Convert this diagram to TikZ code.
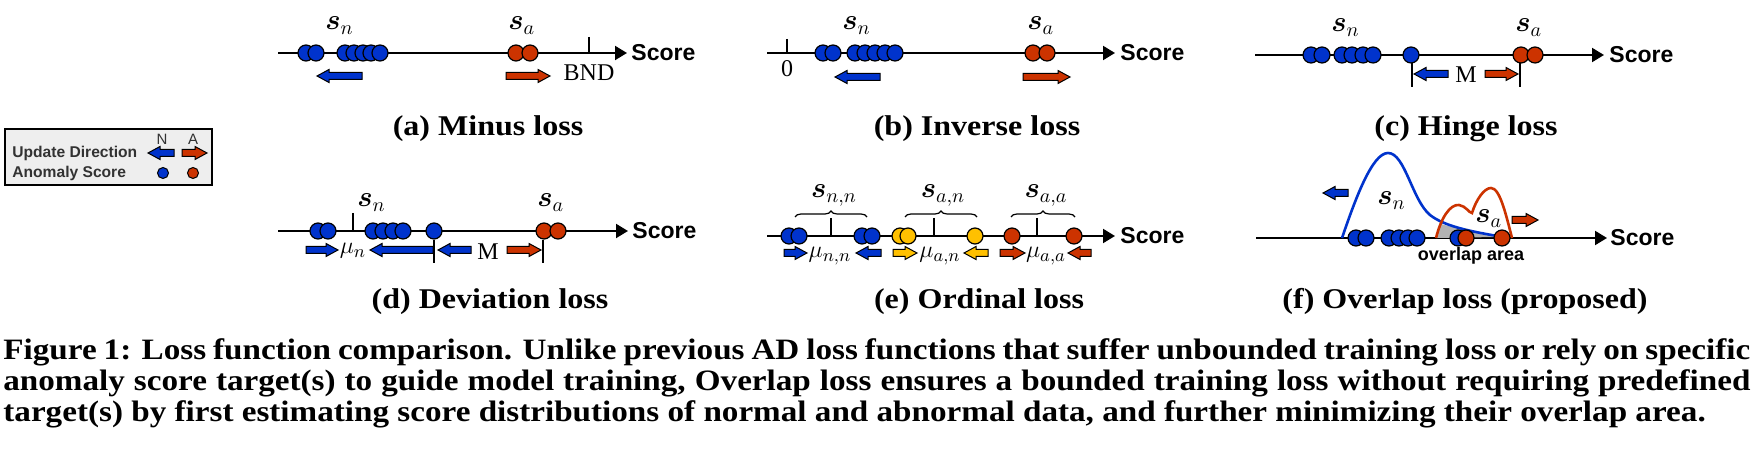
\documentclass[tikz,border=0pt]{standalone}
\usepackage{amsmath,bm}
\usepackage{fontspec}
\setmainfont{Liberation Serif}
\newfontfamily\arialfont{Liberation Sans}
\newfontfamily\capfont[FakeStretch=1.12]{Liberation Serif}
\usetikzlibrary{arrows.meta,decorations.pathreplacing}

\definecolor{normblue}{RGB}{0,51,204}
\definecolor{anomred}{RGB}{204,51,0}
\definecolor{midyellow}{RGB}{255,192,0}
\definecolor{legendgray}{RGB}{238,238,238}
\definecolor{legendtext}{RGB}{50,50,50}

\tikzset{
  axisline/.style={line width=1pt,-{Triangle[length=6pt,width=7pt]}},
  scorelabel/.style={anchor=west,inner sep=0pt,font=\arialfont\bfseries\fontsize{11.5}{13}\selectfont},
  setlabel/.style={anchor=base west,inner sep=0pt,font=\fontsize{14.5}{16}\selectfont},
  meanlabel/.style={anchor=base,inner sep=0pt,font=\fontsize{13}{15}\selectfont},
  subcap/.style={anchor=base,inner sep=0pt,font=\capfont\bfseries\fontsize{14.3}{16}\selectfont},
  figline/.style={anchor=base west,inner sep=0pt,font=\capfont\bfseries\fontsize{14.8}{17}\selectfont},
  serifmark/.style={inner sep=0pt,font=\fontsize{12}{14}\selectfont},
  tickline/.style={line width=0.6pt},
  legendlabel/.style={anchor=west,inner sep=0pt,text=legendtext,font=\arialfont\bfseries\fontsize{7.8}{9}\selectfont}
}

% a row of score dots: x list, y, colour
\newcommand{\dotrow}[3]{%
  \foreach \px in {#1} {\filldraw[fill=#3,draw=black,line width=0.6pt] (\px,#2) circle[radius=4pt];}}
% block arrow: tail x, tip x, y, colour
\newcommand{\dirarrow}[4]{%
  \pgfmathsetmacro\headx{#2-12*sign(#2-#1)}
  \filldraw[fill=#4,draw=black,line width=0.5pt]
    (#1,#3-3.5) -- (\headx,#3-3.5) -- (\headx,#3-6.5) -- (#2,#3) --
    (\headx,#3+6.5) -- (\headx,#3+3.5) -- (#1,#3+3.5) -- cycle;}

\begin{document}
\begin{tikzpicture}[x=0.5pt,y=-0.5pt]
\useasboundingbox (0,0) rectangle (1755,453);

% legend
\filldraw[fill=legendgray,draw=black,line width=0.8pt] (5,129) rectangle (212,185);
\node[legendlabel] (updlbl) at (12,153) {Update Direction};
\node[legendlabel] (anolbl) at (12,173) {Anomaly Score};
\node[inner sep=0pt,text=legendtext,font=\arialfont\fontsize{7.5}{9}\selectfont] (legN) at (162,139) {N};
\node[inner sep=0pt,text=legendtext,font=\arialfont\fontsize{7.5}{9}\selectfont] (legA) at (193,139) {A};
\dirarrow{174}{148}{153}{normblue}
\dirarrow{182}{207}{153}{anomred}
\filldraw[fill=normblue,draw=black,line width=0.5pt] (163,173) circle[radius=2.75pt];
\filldraw[fill=anomred,draw=black,line width=0.5pt] (193,173) circle[radius=2.75pt];

% (a) minus loss
\draw[axisline] (278,53) -- (627,53);
\node[scorelabel] (scoreA) at (631,53) {Score};
\draw[tickline] (589,37) -- (589,53);
\dotrow{306,316,345,354,363,371,380}{53}{normblue}
\dotrow{516,530}{53}{anomred}
\node[serifmark] (bnd) at (589,73) {BND};
\dirarrow{362}{317}{76}{normblue}
\dirarrow{506}{550}{76}{anomred}
\node[setlabel] (snA) at (325,30) {$\bm{s}_n$};
\node[setlabel] (saA) at (508,30) {$\bm{s}_a$};
\node[subcap] (capA) at (488,136) {(a) Minus loss};

% (b) inverse loss
\draw[axisline] (767,53) -- (1115,53);
\node[scorelabel] (scoreB) at (1120,53) {Score};
\draw[tickline] (787,39) -- (787,53);
\node[serifmark] (zero) at (787,69) {0};
\dotrow{823,833,855,865,875,885,895}{53}{normblue}
\dotrow{1033,1047}{53}{anomred}
\dirarrow{880}{835}{77}{normblue}
\dirarrow{1023}{1070}{77}{anomred}
\node[setlabel] (snB) at (842,30) {$\bm{s}_n$};
\node[setlabel] (saB) at (1027,30) {$\bm{s}_a$};
\node[subcap] (capB) at (977,136) {(b) Inverse loss};

% (c) hinge loss
\draw[axisline] (1255,55) -- (1604,55);
\node[scorelabel] (scoreC) at (1609,55) {Score};
\dotrow{1311,1322,1342,1352,1363,1373,1411}{55}{normblue}
\dotrow{1521,1535}{55}{anomred}
\draw[tickline] (1412,63) -- (1412,87);
\draw[tickline] (1520,63) -- (1520,87);
\dirarrow{1448}{1414}{74}{normblue}
\node[serifmark] (mC) at (1466,75) {M};
\dirarrow{1485}{1518}{74}{anomred}
\node[setlabel] (snC) at (1331,32) {$\bm{s}_n$};
\node[setlabel] (saC) at (1515,32) {$\bm{s}_a$};
\node[subcap] (capC) at (1466,136) {(c) Hinge loss};

% (d) deviation loss
\draw[axisline] (278,231) -- (628,231);
\node[scorelabel] (scoreD) at (632,231) {Score};
\draw[tickline] (353,213) -- (353,231);
\dotrow{318,328,373,383,393,403,434}{231}{normblue}
\dotrow{544,558}{231}{anomred}
\dirarrow{306}{338}{250}{normblue}
\node[meanlabel] (muD) at (353,254) {$\mu_n$};
\dirarrow{433}{370}{250}{normblue}
\draw[tickline] (434,240) -- (434,263);
\dirarrow{471}{438}{250}{normblue}
\node[serifmark] (mD) at (488,252) {M};
\dirarrow{507}{541}{250}{anomred}
\draw[tickline] (543,240) -- (543,263);
\node[setlabel] (snD) at (357,207) {$\bm{s}_n$};
\node[setlabel] (saD) at (537,207) {$\bm{s}_a$};
\node[subcap] (capD) at (490,309) {(d) Deviation loss};

% (e) ordinal loss
\draw[axisline] (767,236) -- (1115,236);
\node[scorelabel] (scoreE) at (1120,236) {Score};
\foreach \tx in {831,934,1037} \draw[tickline] (\tx,218) -- (\tx,236);
\dotrow{789,799,862,872}{236}{normblue}
\dotrow{900,908,975}{236}{midyellow}
\dotrow{1012,1074}{236}{anomred}
\draw[tickline,decorate,decoration={brace,amplitude=3pt}] (795,217) -- (867,217);
\draw[tickline,decorate,decoration={brace,amplitude=3pt}] (905,217) -- (977,217);
\draw[tickline,decorate,decoration={brace,amplitude=3pt}] (1011,217) -- (1075,217);
\node[setlabel,anchor=base] (snnE) at (834,198) {$\bm{s}_{n,n}$};
\node[setlabel,anchor=base] (sanE) at (943,198) {$\bm{s}_{a,n}$};
\node[setlabel,anchor=base] (saaE) at (1046,198) {$\bm{s}_{a,a}$};
\dirarrow{784}{807}{253}{normblue}
\node[meanlabel] (munnE) at (830,258) {$\mu_{n,n}$};
\dirarrow{881}{856}{253}{normblue}
\dirarrow{893}{917}{253}{midyellow}
\node[meanlabel] (muanE) at (940,258) {$\mu_{a,n}$};
\dirarrow{988}{964}{253}{midyellow}
\dirarrow{1000}{1025}{253}{anomred}
\node[meanlabel] (muaaE) at (1046,258) {$\mu_{a,a}$};
\dirarrow{1091}{1068}{253}{anomred}
\node[subcap] (capE) at (979,309) {(e) Ordinal loss};

% (f) overlap loss
\draw[axisline] (1256,238) -- (1607,238);
\node[scorelabel] (scoreF) at (1610,238) {Score};
\fill[gray!60] (1436,238) -- (1441,224) .. controls (1458,229) and (1478,233) .. (1497,237) -- cycle;
\draw[normblue,line width=1.3pt]
  (1342,238) .. controls (1355,200) and (1372,153) .. (1388,153)
  .. controls (1405,153) and (1412,200) .. (1430,215)
  .. controls (1445,227) and (1475,232) .. (1497,236);
\draw[anomred,line width=1.3pt]
  (1436,238) .. controls (1441,218) and (1450,204) .. (1459,205)
  .. controls (1466,206) and (1469,213) .. (1472,213)
  .. controls (1476,200) and (1484,188) .. (1491,188)
  .. controls (1500,188) and (1506,215) .. (1512,238);
\dotrow{1356,1366,1389,1399,1408,1417,1458}{238}{normblue}
\dotrow{1466,1502}{238}{anomred}
\dirarrow{1348}{1323}{193}{normblue}
\dirarrow{1512}{1538}{220}{anomred}
\node[setlabel] (snF) at (1377,205) {$\bm{s}_n$};
\node[setlabel] (saF) at (1475,223) {$\bm{s}_a$};
\node[inner sep=0pt,font=\arialfont\bfseries\fontsize{9}{10}\selectfont] (ovlF) at (1471,256) {overlap area};
\node[subcap] (capF) at (1465,309) {(f) Overlap loss (proposed)};

% figure caption, one node per printed line
\node[figline] (figcapA) at (3,360)
  {\makebox[873.5pt][s]{Figure 1: Loss function comparison. Unlike previous AD loss functions that suffer unbounded training loss or rely on specific}};
\node[figline] (figcapB) at (3,391)
  {\makebox[873.5pt][s]{anomaly score target(s) to guide model training, Overlap loss ensures a bounded training loss without requiring predefined}};
\node[figline] (figcapC) at (3,422)
  {target(s) by first estimating score distributions of normal and abnormal data, and further minimizing their overlap area.};
\end{tikzpicture}
\end{document}
